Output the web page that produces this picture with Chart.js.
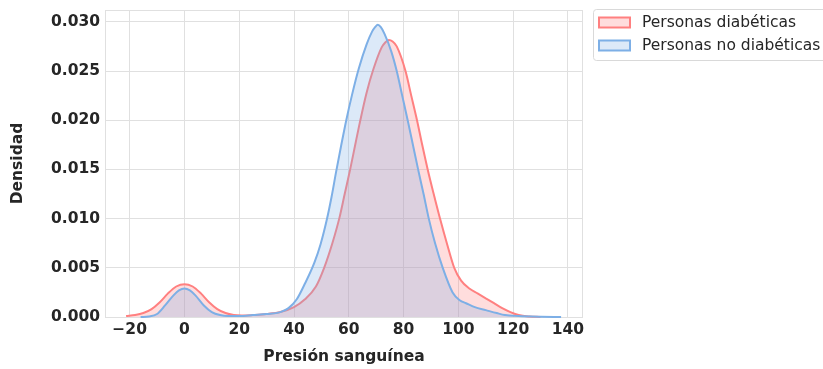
<!DOCTYPE html>
<html>
<head>
<meta charset="utf-8">
<script src="https://cdn.jsdelivr.net/npm/chart.js@4.4.1/dist/chart.umd.min.js"></script>
<style>
  html, body { margin: 0; padding: 0; background: #fff; }
  #wrap { width: 823px; height: 369px; position: relative; }
</style>
</head>
<body>
<div id="wrap"><canvas id="chart"></canvas></div>
<script>
// --- Data ---
const SERIES_LABELS = ['Personas diabéticas', 'Personas no diabéticas'];

const diabX = [-21.3, -18, -15, -12, -9, -6, -3, 0, 3, 6, 9, 12, 15, 18, 21, 25, 30, 35, 40, 44, 48, 51, 54, 56.6, 58.5, 60.5, 62.2, 63.9, 66.5, 69, 72, 73.3, 74.6, 76, 77.5, 80.7, 82.8, 84.9, 86.8, 88.8, 91, 93.3, 96, 98.5, 101, 104, 107, 110, 113, 116, 119, 122, 126, 130];
const diabY = [0.0001, 0.0002, 0.0004, 0.0008, 0.0015, 0.0024, 0.0031, 0.00334, 0.0031, 0.0024, 0.0015, 0.0008, 0.0004, 0.0002, 0.00015, 0.0002, 0.0003, 0.0005, 0.0010, 0.0018, 0.0031, 0.0050, 0.0075, 0.0101, 0.0125, 0.0150, 0.0173, 0.0196, 0.0228, 0.0252, 0.0274, 0.0279, 0.02815, 0.0280, 0.0275, 0.0250, 0.0225, 0.0200, 0.0175, 0.0150, 0.0125, 0.0100, 0.0073, 0.0050, 0.0037, 0.0029, 0.0024, 0.0019, 0.0014, 0.0009, 0.0005, 0.0002, 0.00005, 0];

const noDiabX = [-16, -13, -10, -7, -4, -2, 0, 2, 4, 7, 10, 13, 16, 20, 25, 30, 35, 38, 41, 44, 47.4, 49.7, 51.9, 53.7, 55.4, 57.2, 59, 61.2, 63.6, 66.5, 68.5, 69.6, 70.6, 71.7, 73, 75.5, 77.5, 79.5, 81.5, 83.4, 85.3, 87.3, 89.2, 91.5, 94.3, 97.9, 100.5, 102.8, 106, 110, 114, 117, 122, 130, 137.5];
const noDiabY = [0, 0.00005, 0.0003, 0.0012, 0.0022, 0.0027, 0.0029, 0.0027, 0.0022, 0.0012, 0.0005, 0.0002, 0.0001, 0.0001, 0.0002, 0.0003, 0.0005, 0.0009, 0.0018, 0.0034, 0.0055, 0.0074, 0.0098, 0.0122, 0.0148, 0.0174, 0.0199, 0.0226, 0.0252, 0.0277, 0.0290, 0.02945, 0.0297, 0.02945, 0.0288, 0.0270, 0.0250, 0.0225, 0.0200, 0.0175, 0.0150, 0.0125, 0.0100, 0.0075, 0.0050, 0.0025, 0.0017, 0.0014, 0.0010, 0.0007, 0.0004, 0.0002, 0.0001, 0.00003, 0];

const X_TICKS = [-20, 0, 20, 40, 60, 80, 100, 120, 140];
const Y_TICKS = [0, 0.005, 0.010, 0.015, 0.020, 0.025, 0.030];

// --- Style ---
const RED = 'rgb(255,128,128)';
const RED_FILL = 'rgba(255,128,128,0.27)';
const BLUE = 'rgb(125,175,230)';
const BLUE_FILL = 'rgba(125,175,230,0.27)';
const GRID = '#e0e0e0';
const TEXT = '#262626';
const FONT = "'DejaVu Sans', sans-serif";

const toPoints = (xs, ys) => xs.map((x, i) => ({ x, y: ys[i] }));

// frame around the plot area (seaborn whitegrid spines)
const framePlugin = {
  id: 'frame',
  beforeDatasetsDraw(chart) {
    const { ctx, chartArea: a } = chart;
    ctx.save();
    ctx.strokeStyle = GRID;
    ctx.lineWidth = 1;
    ctx.strokeRect(a.left + 0.5, a.top + 0.5, a.right - a.left - 1, a.bottom - a.top);
    ctx.restore();
  }
};

// legend box outside the plot, top right
const legendPlugin = {
  id: 'outsideLegend',
  afterDraw(chart) {
    const { ctx } = chart;
    const x0 = 593, y0 = 9, w = 260, h = 51;
    ctx.save();
    ctx.fillStyle = 'rgba(255,255,255,0.9)';
    ctx.strokeStyle = '#d9d9d9';
    ctx.lineWidth = 1;
    ctx.beginPath();
    ctx.roundRect(x0 + 0.5, y0 + 0.5, w, h, 3);
    ctx.fill();
    ctx.stroke();

    const items = [
      { label: SERIES_LABELS[0], stroke: RED, fill: RED_FILL },
      { label: SERIES_LABELS[1], stroke: BLUE, fill: BLUE_FILL }
    ];
    ctx.font = `15.5px ${FONT}`;
    ctx.textBaseline = 'middle';
    ctx.textAlign = 'left';
    items.forEach((it, i) => {
      const cy = 22.5 + i * 23;
      ctx.fillStyle = '#fff';
      ctx.fillRect(599, cy - 5, 31, 10);
      ctx.fillStyle = it.fill;
      ctx.fillRect(599, cy - 5, 31, 10);
      ctx.strokeStyle = it.stroke;
      ctx.lineWidth = 2;
      ctx.strokeRect(599, cy - 5, 31, 10);
      ctx.fillStyle = TEXT;
      ctx.fillText(it.label, 642, cy);
    });
    ctx.restore();
  }
};

new Chart(document.getElementById('chart'), {
  type: 'line',
  data: {
    datasets: [
      {
        label: SERIES_LABELS[0],
        data: toPoints(diabX, diabY),
        borderColor: RED,
        backgroundColor: RED_FILL,
        fill: 'origin',
        order: 2
      },
      {
        label: SERIES_LABELS[1],
        data: toPoints(noDiabX, noDiabY),
        borderColor: BLUE,
        backgroundColor: BLUE_FILL,
        fill: 'origin',
        order: 1
      }
    ]
  },
  options: {
    responsive: true,
    maintainAspectRatio: false,
    animation: false,
    layout: { padding: { left: 0, right: 240, top: 10, bottom: 0 } },
    elements: {
      line: { borderWidth: 2, cubicInterpolationMode: 'monotone' },
      point: { radius: 0, hoverRadius: 0 }
    },
    datasets: { line: { clip: 6 } },
    plugins: {
      legend: { display: false },
      tooltip: { enabled: false }
    },
    scales: {
      x: {
        type: 'linear',
        min: -29,
        max: 145.5,
        afterBuildTicks: s => { s.ticks = X_TICKS.map(v => ({ value: v })); },
        afterFit: s => { s.height = 52; s.paddingLeft = 0; s.paddingRight = 0; },
        grid: { color: GRID, drawTicks: false },
        border: { display: false },
        ticks: {
          padding: 4,
          color: TEXT,
          font: { family: FONT, size: 15.5, weight: 'bold' },
          callback: v => (v < 0 ? '\u2212' + Math.abs(v) : String(v))
        },
        title: {
          display: true,
          text: 'Presión sanguínea',
          color: TEXT,
          font: { family: FONT, size: 15.5, weight: 'bold' },
          padding: { top: 3, bottom: 3 }
        }
      },
      y: {
        min: 0,
        max: 0.0312,
        afterBuildTicks: s => { s.ticks = Y_TICKS.map(v => ({ value: v })); },
        afterFit: s => { s.width = 105; s.paddingTop = 0; s.paddingBottom = 0; },
        grid: { color: GRID, drawTicks: false },
        border: { display: false },
        ticks: {
          padding: 5,
          color: TEXT,
          font: { family: FONT, size: 15.5, weight: 'bold' },
          callback: v => v.toFixed(3)
        },
        title: {
          display: true,
          text: 'Densidad',
          color: TEXT,
          font: { family: FONT, size: 15.5, weight: 'bold' },
          padding: { top: 9, bottom: 0 }
        }
      }
    }
  },
  plugins: [framePlugin, legendPlugin]
});
</script>
</body>
</html>
